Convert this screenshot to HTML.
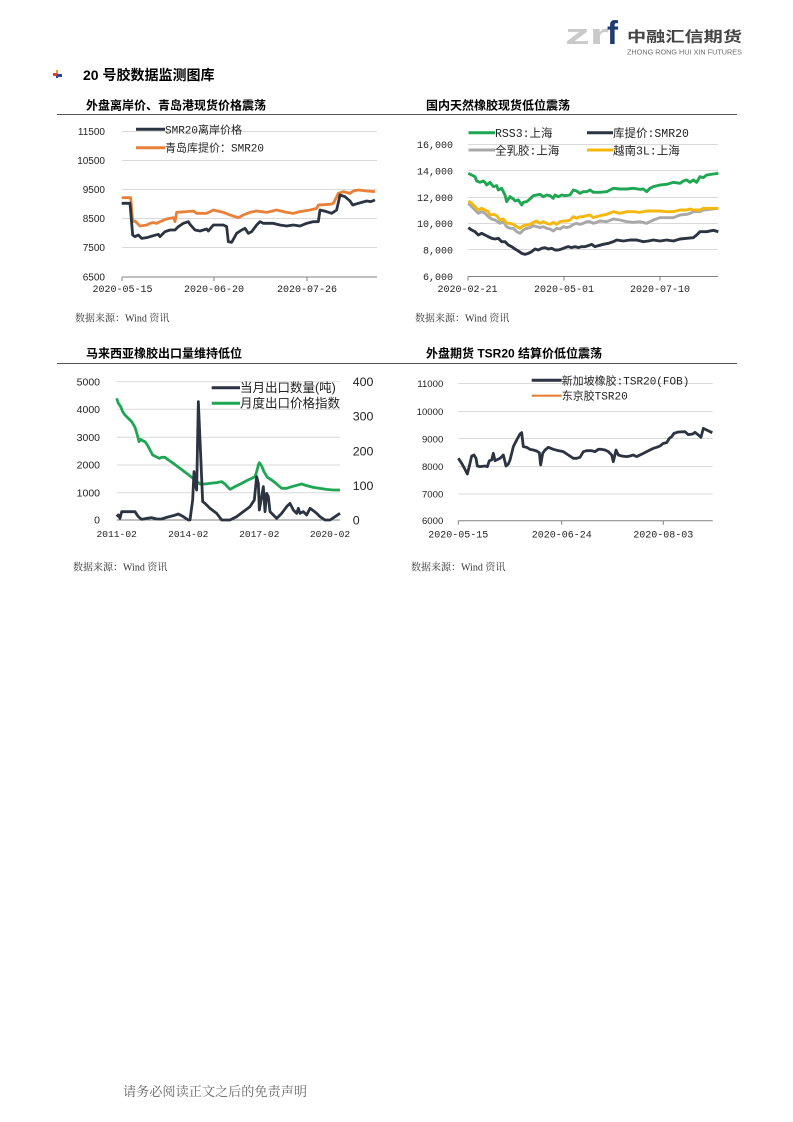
<!DOCTYPE html>
<html>
<head>
<meta charset="utf-8">
<style>
  html,body{margin:0;padding:0;background:#fff;}
  body{width:793px;height:1122px;overflow:hidden;}
  svg{display:block;}
  .sans{font-family:"Liberation Sans","Noto Sans CJK SC",sans-serif;}
  .mono{font-family:"Liberation Mono","Noto Sans CJK SC",monospace;}
  .serif{font-family:"Liberation Serif","Noto Serif CJK SC",serif;}
</style>
</head>
<body>
<svg width="793" height="1122" viewBox="0 0 793 1122" xmlns="http://www.w3.org/2000/svg">
  <rect width="793" height="1122" fill="#fff"/>

  <!-- Logo -->
  <text x="565" y="44" class="sans" font-size="29" font-weight="bold" fill="#c9c9c9" textLength="44" lengthAdjust="spacingAndGlyphs">zr</text>
  <text x="607" y="44" class="sans" font-size="33" font-weight="bold" fill="#1f3b70">f</text>
  <text x="627" y="42" class="sans" font-size="14.5" font-weight="bold" fill="#444" textLength="115" lengthAdjust="spacingAndGlyphs">中融汇信期货</text>
  <text x="627" y="54.5" class="sans" font-size="7.5" fill="#6d6d6d" textLength="115" lengthAdjust="spacingAndGlyphs">ZHONG RONG HUI XIN FUTURES</text>

  <!-- Header bullet -->
  <rect x="56" y="70" width="2" height="4" fill="#f0a020"/>
  <rect x="53" y="73" width="4" height="3" fill="#d9403a"/>
  <rect x="57" y="74" width="5" height="3" fill="#2a4aa0"/>
  <rect x="56" y="76" width="2" height="2" fill="#2a4aa0"/>
  <text x="83" y="80" class="sans" font-size="14" font-weight="bold" fill="#000">20 号胶数据监测图库</text>

  <!-- Title rules -->
  <line x1="57" y1="114.5" x2="737" y2="114.5" stroke="#555" stroke-width="1"/>
  <line x1="57" y1="363.5" x2="737" y2="363.5" stroke="#555" stroke-width="1"/>

  <!-- Titles -->
  <text x="86" y="109.5" class="sans" font-size="12" font-weight="bold" fill="#000">外盘离岸价、青岛港现货价格震荡</text>
  <text x="426" y="109.5" class="sans" font-size="12" font-weight="bold" fill="#000">国内天然橡胶现货低位震荡</text>
  <text x="86" y="357.5" class="sans" font-size="12" font-weight="bold" fill="#000">马来西亚橡胶出口量维持低位</text>
  <text x="426" y="357.5" class="sans" font-size="12" font-weight="bold" fill="#000">外盘期货 TSR20 结算价低位震荡</text>

  <!-- ================= Chart 1 ================= -->
  <g stroke="#d9d9d9" stroke-width="1">
    <line x1="122" y1="131.5" x2="377" y2="131.5"/>
    <line x1="122" y1="160.5" x2="377" y2="160.5"/>
    <line x1="122" y1="189.5" x2="377" y2="189.5"/>
    <line x1="122" y1="218.5" x2="377" y2="218.5"/>
    <line x1="122" y1="247.5" x2="377" y2="247.5"/>
  </g>
  <g stroke="#808080" stroke-width="1">
    <line x1="122" y1="277" x2="377" y2="277"/>
    <line x1="122" y1="277" x2="122" y2="281"/>
    <line x1="214" y1="277" x2="214" y2="281"/>
    <line x1="307" y1="277" x2="307" y2="281"/>
  </g>
  <g class="sans" font-size="10" fill="#222" text-anchor="end">
    <text x="105" y="135">11500</text>
    <text x="105" y="164">10500</text>
    <text x="105" y="193">9500</text>
    <text x="105" y="222">8500</text>
    <text x="105" y="251">7500</text>
    <text x="105" y="280.5">6500</text>
  </g>
  <g class="mono" font-size="10" fill="#222" text-anchor="middle">
    <text x="122.5" y="292">2020-05-15</text>
    <text x="214" y="292">2020-06-20</text>
    <text x="307" y="292">2020-07-26</text>
  </g>
  <g transform="translate(60,95) scale(0.333333)" fill="none" stroke-linejoin="round">
    <polyline vector-effect="non-scaling-stroke" stroke="#e8803a" stroke-width="2.8" points="185,308 212,308 218,380 225,378 232,385 240,393 260,390 270,385 280,383 290,385 300,380 320,372 340,368 345,380 350,352 380,350 400,348 410,355 440,355 460,345 490,352 510,360 535,368 550,360 570,352 590,348 620,352 650,345 680,352 700,355 720,350 750,345 770,340 775,330 810,328 820,325 835,295 850,290 870,295 880,288 895,285 920,288 945,290"/>
    <polyline vector-effect="non-scaling-stroke" stroke="#2c3441" stroke-width="2.8" points="185,325 210,325 218,420 225,425 235,420 245,430 260,428 280,422 295,418 300,425 315,410 330,405 345,405 355,395 370,385 385,380 390,388 405,405 420,408 440,402 445,408 460,390 490,390 500,395 505,440 515,442 530,415 545,405 555,400 565,415 575,410 590,390 600,380 610,385 620,385 640,385 660,390 680,393 700,390 720,393 740,385 760,380 775,380 780,345 800,350 815,355 830,345 840,300 855,305 870,318 878,330 895,325 920,318 932,320 945,315"/>
  </g>
  <line x1="136" y1="129.3" x2="165" y2="129.3" stroke="#2c3441" stroke-width="3"/>
  <line x1="136" y1="147.7" x2="165" y2="147.7" stroke="#e8803a" stroke-width="3"/>
  <g class="mono" font-size="11" fill="#222">
    <text x="165" y="133.3">SMR20离岸价格</text>
    <text x="165" y="151.7">青岛库提价：SMR20</text>
  </g>
  <text x="75" y="321.5" class="serif" font-size="10" fill="#333">数据来源：Wind 资讯</text>

  <!-- ================= Chart 2 ================= -->
  <g stroke="#d9d9d9" stroke-width="1">
    <line x1="468" y1="144.5" x2="718" y2="144.5"/>
    <line x1="468" y1="170.5" x2="718" y2="170.5"/>
    <line x1="468" y1="197.5" x2="718" y2="197.5"/>
    <line x1="468" y1="223.5" x2="718" y2="223.5"/>
    <line x1="468" y1="249.5" x2="718" y2="249.5"/>
  </g>
  <g stroke="#808080" stroke-width="1">
    <line x1="468" y1="276.5" x2="718" y2="276.5"/>
    <line x1="468" y1="276.5" x2="468" y2="280.5"/>
    <line x1="564" y1="276.5" x2="564" y2="280.5"/>
    <line x1="660" y1="276.5" x2="660" y2="280.5"/>
  </g>
  <g class="mono" font-size="10" fill="#222" text-anchor="end">
    <text x="453" y="148">16,000</text>
    <text x="453" y="174.5">14,000</text>
    <text x="453" y="201">12,000</text>
    <text x="453" y="227">10,000</text>
    <text x="453" y="253.5">8,000</text>
    <text x="453" y="280">6,000</text>
  </g>
  <g class="mono" font-size="10" fill="#222" text-anchor="middle">
    <text x="467.5" y="292">2020-02-21</text>
    <text x="564" y="292">2020-05-01</text>
    <text x="660" y="292">2020-07-10</text>
  </g>
  <g transform="translate(400,95) scale(0.333333)" fill="none" stroke-linejoin="round">
    <polyline vector-effect="non-scaling-stroke" stroke="#1fa653" stroke-width="2.9" points="205,235 215,240 225,245 230,258 240,262 250,258 255,262 260,270 270,262 280,275 290,272 295,285 305,280 315,300 320,320 330,305 340,312 345,318 355,315 365,330 370,322 380,320 390,312 400,302 410,300 420,298 430,305 440,300 450,302 460,310 465,300 475,305 485,300 495,302 510,300 520,285 530,288 540,295 550,290 560,290 570,285 580,292 600,292 620,290 630,285 640,280 660,282 680,282 700,280 720,283 730,282 740,290 750,280 760,275 780,270 800,268 820,262 840,265 850,258 860,255 870,262 880,255 890,262 900,245 910,248 920,240 940,237 955,235"/>
    <polyline vector-effect="non-scaling-stroke" stroke="#a8a8a8" stroke-width="2.9" points="205,325 215,335 225,345 235,355 245,350 255,355 265,365 275,372 285,375 300,385 310,380 320,395 330,400 340,400 350,410 360,415 370,405 380,400 390,398 400,392 410,395 420,398 430,395 440,400 450,402 460,408 470,400 480,402 490,395 500,398 510,395 520,388 530,385 540,388 550,385 560,380 570,380 580,385 600,378 620,380 640,372 660,375 680,380 700,382 720,380 740,385 760,375 780,368 800,368 820,368 840,360 860,358 870,355 880,350 900,350 910,345 930,343 955,340"/>
    <polyline vector-effect="non-scaling-stroke" stroke="#f4b80e" stroke-width="2.9" points="205,318 215,325 225,335 235,345 245,340 255,345 265,350 270,360 280,358 290,362 300,375 310,372 320,385 330,385 340,388 350,395 360,400 370,392 380,390 390,388 400,382 410,378 420,385 430,380 440,385 450,388 460,382 470,388 480,380 490,378 500,378 510,375 520,365 530,370 540,365 550,365 560,362 570,360 580,368 600,362 620,358 640,350 660,355 680,350 700,350 720,352 740,348 760,348 780,348 800,350 820,350 840,345 860,345 870,342 880,345 900,345 910,340 930,340 955,340"/>
    <polyline vector-effect="non-scaling-stroke" stroke="#2c3441" stroke-width="2.9" points="205,398 215,405 225,410 235,420 245,415 255,420 265,425 275,430 285,432 295,430 305,440 315,440 325,450 335,455 345,462 355,468 365,475 375,478 385,475 395,470 405,462 415,465 425,460 435,458 445,462 455,460 465,465 475,465 485,462 495,458 505,455 515,458 525,455 535,458 545,455 555,455 565,452 575,448 585,455 595,452 610,448 625,445 640,440 650,435 670,438 690,435 710,435 730,440 745,438 760,435 780,438 800,435 820,438 840,432 860,430 880,428 890,420 900,410 920,410 940,406 955,410"/>
  </g>
  <line x1="468.5" y1="132.7" x2="495" y2="132.7" stroke="#1fa653" stroke-width="3"/>
  <line x1="587" y1="132.7" x2="613" y2="132.7" stroke="#2c3441" stroke-width="3"/>
  <line x1="468.5" y1="150" x2="495" y2="150" stroke="#a8a8a8" stroke-width="3"/>
  <line x1="587" y1="150" x2="613" y2="150" stroke="#f4b80e" stroke-width="3"/>
  <g class="mono" font-size="11.5" fill="#222">
    <text x="495" y="137">RSS3:上海</text>
    <text x="613" y="137">库提价:SMR20</text>
    <text x="495" y="154.3">全乳胶:上海</text>
    <text x="613" y="154.3">越南3L:上海</text>
  </g>
  <text x="415" y="321.5" class="serif" font-size="10" fill="#333">数据来源：Wind 资讯</text>

  <!-- ================= Chart 3 ================= -->
  <g stroke="#d9d9d9" stroke-width="1">
    <line x1="116.7" y1="381.7" x2="340" y2="381.7"/>
    <line x1="116.7" y1="409.3" x2="340" y2="409.3"/>
    <line x1="116.7" y1="437.3" x2="340" y2="437.3"/>
    <line x1="116.7" y1="465" x2="340" y2="465"/>
    <line x1="116.7" y1="492.7" x2="340" y2="492.7"/>
  </g>
  <line x1="116.7" y1="520" x2="340" y2="520" stroke="#808080" stroke-width="1"/>
  <g class="sans" font-size="10.5" fill="#222" text-anchor="end">
    <text x="100" y="385.5">5000</text>
    <text x="100" y="413">4000</text>
    <text x="100" y="441">3000</text>
    <text x="100" y="468.7">2000</text>
    <text x="100" y="496.5">1000</text>
    <text x="100" y="523.7">0</text>
  </g>
  <g class="sans" font-size="12.4" fill="#222">
    <text x="352.7" y="386">400</text>
    <text x="352.7" y="420.6">300</text>
    <text x="352.7" y="455.3">200</text>
    <text x="352.7" y="490">100</text>
    <text x="352.7" y="524.3">0</text>
  </g>
  <g class="mono" font-size="9.6" fill="#222" text-anchor="middle">
    <text x="116.7" y="537">2011-02</text>
    <text x="188.3" y="537">2014-02</text>
    <text x="259.3" y="537">2017-02</text>
    <text x="330" y="537">2020-02</text>
  </g>
  <g transform="translate(60,340) scale(0.333333)" fill="none" stroke-linejoin="round">
    <polyline vector-effect="non-scaling-stroke" stroke="#1fa653" stroke-width="2.8" points="170,175 175,190 182,200 188,215 195,225 205,235 215,245 225,262 232,285 237,305 242,298 248,302 255,305 262,315 270,330 278,345 288,350 298,355 305,352 315,352 325,360 340,370 360,385 380,400 395,412 408,422 420,432 435,432 450,430 470,428 485,425 495,432 510,448 525,440 545,430 560,422 575,415 585,410 590,395 595,375 598,368 605,378 612,395 622,412 635,420 650,432 665,445 680,445 695,440 710,436 725,432 740,437 760,442 780,445 800,448 820,450 840,450"/>
    <polyline vector-effect="non-scaling-stroke" stroke="#2c3441" stroke-width="2.8" points="170,530 175,525 180,535 185,515 200,515 215,515 225,515 235,530 245,538 260,535 275,533 290,537 305,537 320,532 340,527 355,522 370,530 385,540 390,540 398,480 402,395 405,430 410,450 415,185 420,300 428,485 435,490 450,505 470,520 485,540 510,540 530,530 550,515 570,500 583,480 590,410 595,430 598,510 605,470 610,440 615,515 620,460 625,470 630,515 640,525 650,535 665,520 680,500 690,490 700,510 710,520 715,505 720,520 730,515 740,525 750,505 760,512 770,520 780,530 795,540 810,540 825,530 840,520"/>
  </g>
  <line x1="211.7" y1="387.7" x2="240" y2="387.7" stroke="#2c3441" stroke-width="3"/>
  <line x1="211.7" y1="403.3" x2="240" y2="403.3" stroke="#1fa653" stroke-width="3"/>
  <g class="sans" font-size="12.5" fill="#222">
    <text x="240" y="392">当月出口数量(吨)</text>
    <text x="240" y="407.7">月度出口价格指数</text>
  </g>
  <text x="73" y="570.5" class="serif" font-size="10" fill="#333">数据来源：Wind 资讯</text>

  <!-- ================= Chart 4 ================= -->
  <g stroke="#d9d9d9" stroke-width="1">
    <line x1="458.3" y1="383.5" x2="712.7" y2="383.5"/>
    <line x1="458.3" y1="411.5" x2="712.7" y2="411.5"/>
    <line x1="458.3" y1="438.5" x2="712.7" y2="438.5"/>
    <line x1="458.3" y1="466.5" x2="712.7" y2="466.5"/>
    <line x1="458.3" y1="494" x2="712.7" y2="494"/>
  </g>
  <g stroke="#808080" stroke-width="1">
    <line x1="458.3" y1="520.7" x2="712.7" y2="520.7"/>
    <line x1="458.3" y1="520.7" x2="458.3" y2="524.7"/>
    <line x1="561.7" y1="520.7" x2="561.7" y2="524.7"/>
    <line x1="663.3" y1="520.7" x2="663.3" y2="524.7"/>
  </g>
  <g class="sans" font-size="9.6" fill="#222" text-anchor="end">
    <text x="443.3" y="386.8">11000</text>
    <text x="443.3" y="415">10000</text>
    <text x="443.3" y="442.5">9000</text>
    <text x="443.3" y="470">8000</text>
    <text x="443.3" y="497.5">7000</text>
    <text x="443.3" y="524">6000</text>
  </g>
  <g class="mono" font-size="10" fill="#222" text-anchor="middle">
    <text x="458.3" y="537.5">2020-05-15</text>
    <text x="561.7" y="537.5">2020-06-24</text>
    <text x="663.3" y="537.5">2020-08-03</text>
  </g>
  <g transform="translate(400,340) scale(0.333333)" fill="none" stroke-linejoin="round">
    <polyline vector-effect="non-scaling-stroke" stroke="#2c3441" stroke-width="2.8" points="175,355 185,370 195,388 202,402 210,370 215,348 222,345 228,355 232,378 240,380 255,378 262,380 268,362 275,360 280,340 285,362 300,355 310,345 318,378 325,372 330,360 340,320 350,300 360,282 365,278 370,320 380,322 390,328 400,330 410,333 418,338 422,375 428,340 435,330 445,322 460,328 475,332 490,335 505,345 520,355 530,355 540,352 550,335 560,332 575,332 585,335 595,328 605,328 615,330 625,335 635,345 640,365 648,330 655,345 665,348 680,350 690,348 700,345 710,350 720,345 730,340 740,335 750,330 760,325 770,322 780,318 790,310 800,308 808,295 815,290 822,280 835,276 855,275 865,284 878,282 885,277 895,285 903,292 910,265 920,270 930,275 937,278"/>
  </g>
  <line x1="531.7" y1="380.3" x2="561.7" y2="380.3" stroke="#2c3441" stroke-width="3"/>
  <line x1="531.7" y1="395.7" x2="561.7" y2="395.7" stroke="#e8803a" stroke-width="2.2"/>
  <g class="mono" font-size="11" fill="#222">
    <text x="561.7" y="384.3">新加坡橡胶:TSR20(FOB)</text>
    <text x="561.7" y="399.7">东京胶TSR20</text>
  </g>
  <text x="411" y="570.5" class="serif" font-size="10" fill="#333">数据来源：Wind 资讯</text>

  <!-- Footer -->
  <text x="123" y="1096" class="serif" font-size="13" fill="#666" textLength="184" lengthAdjust="spacingAndGlyphs">请务必阅读正文之后的免责声明</text>
</svg>
</body>
</html>
